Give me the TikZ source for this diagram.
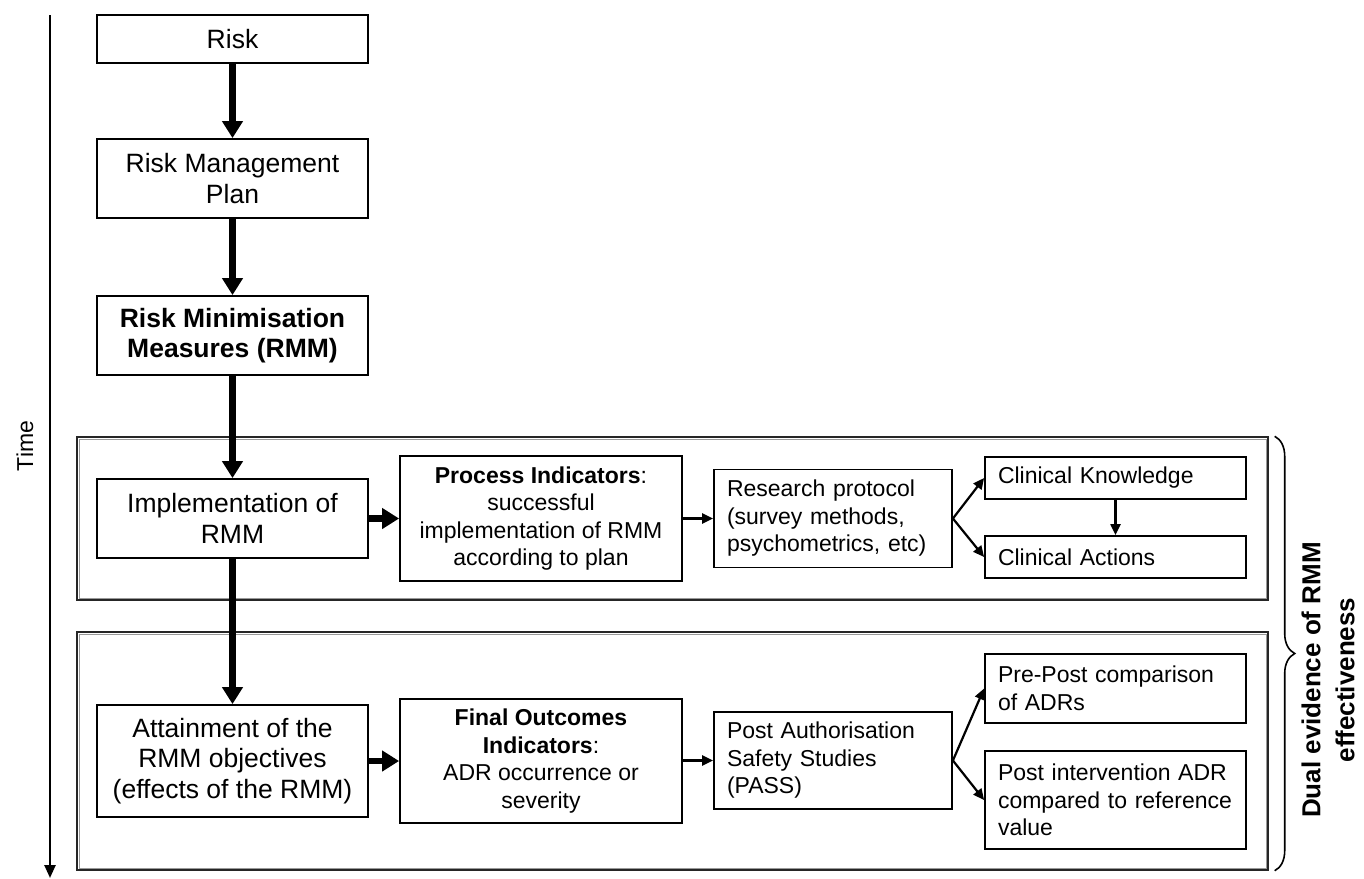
\documentclass[tikz,border=0pt]{standalone}
\usepackage{fontspec}
\setmainfont{Liberation Sans}
\usetikzlibrary{arrows.meta,decorations.pathreplacing,calc}
\newcommand{\lpad}{\leftskip=13pt\relax\hyphenpenalty=10000\relax}
\begin{document}
\begin{tikzpicture}[x=1pt,y=-1pt,
  box/.style={draw, line width=1.8pt, inner sep=0pt, align=center, font=\fontsize{26.5}{30.5}\selectfont},
  midbox/.style={box, font=\fontsize{23}{27.5}\selectfont},
  lbox/.style={draw, line width=1.8pt, inner sep=0pt, align=left, font=\fontsize{23}{27.5}\selectfont},
  frame/.style={draw=black!85, line width=1.4pt, inner sep=0pt},
  frameinner/.style={draw=black!40, line width=0.8pt, inner sep=0pt},
  bigarrow/.style={line width=6.5pt, -{Triangle[length=17pt,width=20pt]}},
  thinarrow/.style={line width=2.2pt, -{Triangle[length=11pt,width=10pt]}},
  timearrow/.style={line width=2.4pt, -{Triangle[length=13pt,width=11pt]}}
]
\useasboundingbox (0,0) rectangle (1364,878);

% group frames
\node[frame, minimum width=1191pt, minimum height=163pt] (g1) at (672.5,518.5) {};
\node[frameinner, minimum width=1187pt, minimum height=159pt] (g1i) at (672.5,518.5) {};
\node[frame, minimum width=1191pt, minimum height=238pt] (g2) at (672.5,751) {};
\node[frameinner, minimum width=1187pt, minimum height=234pt] (g2i) at (672.5,751) {};

% time axis
\coordinate (t0) at (50,15);
\coordinate (t1) at (50,878);
\draw[timearrow] (t0) -- (t1);
\node[rotate=90, font=\fontsize{23}{26}\selectfont] (time) at (25,446) {Time};

% main column
\node[box, minimum width=271pt, minimum height=48pt] (risk) at (232.5,39) {Risk};
\node[box, minimum width=271pt, minimum height=79pt] (rmp) at (232.5,178.5) {Risk Management\\Plan};
\node[box, minimum width=271pt, minimum height=79pt, font=\bfseries\fontsize{26.5}{30.5}\selectfont] (rmm) at (232.5,335.5) {Risk Minimisation\\Measures (RMM)};
\node[box, minimum width=271pt, minimum height=79pt] (impl) at (232.5,518.5) {Implementation of\\RMM};
\node[box, minimum width=271pt, minimum height=112pt] (att) at (232.5,761) {Attainment of the\\RMM objectives\\(effects of the RMM)};

% process row
\node[midbox, minimum width=282pt, minimum height=125pt] (proc) at (541,518.5) {\textbf{Process Indicators}:\\successful\\implementation of RMM\\according to plan};
\node[lbox, text width=238pt, minimum height=98pt] (res) at (833,518.5) {\lpad Research protocol\\(survey methods,\\psychometrics, etc)\par};
\node[lbox, text width=261pt, minimum height=42pt] (ck) at (1115.5,478) {\lpad Clinical Knowledge\par};
\node[lbox, text width=261pt, minimum height=42pt] (ca) at (1115.5,557) {\lpad Clinical Actions\par};

% outcome row
\node[midbox, minimum width=282pt, minimum height=124pt] (fin) at (541,761) {\textbf{Final Outcomes}\\\textbf{Indicators}:\\ADR occurrence or\\severity};
\node[lbox, text width=238pt, minimum height=97pt] (pas) at (833,760.5) {\lpad Post Authorisation\\Safety Studies\\(PASS)\par};
\node[lbox, text width=261pt, minimum height=69pt] (pre) at (1115.5,688.5) {\lpad Pre-Post comparison\\of ADRs\par};
\node[lbox, text width=261pt, minimum height=98pt] (pin) at (1115.5,800) {\lpad Post intervention ADR\\compared to reference\\value\par};

% connectors
\draw[bigarrow] (risk) -- (rmp);
\draw[bigarrow] (rmp) -- (rmm);
\draw[bigarrow] (rmm) -- (impl);
\draw[bigarrow] (impl) -- (att);
\draw[bigarrow] (impl.east) -- (impl.east -| proc.west);
\draw[bigarrow] (att.east) -- (att.east -| fin.west);
\draw[thinarrow] (proc.east) -- (proc.east -| res.west);
\draw[thinarrow] (pas.west -| fin.east) -- (pas.west);
\draw[thinarrow] (res.east) -- (ck.west);
\draw[thinarrow] (res.east) -- (ca.west);
\draw[thinarrow] (pas.east) -- (pre.west);
\draw[thinarrow] (pas.east) -- (pin.west);
\draw[thinarrow] (ck.south) -- (ca.north);

% brace and label
\coordinate (b0) at ($(g1.north east)+(6,0)$);
\coordinate (b1) at ($(g2.south east)+(6,0)$);
\draw[decorate, decoration={brace, amplitude=20pt}, line width=1.6pt] (b0) -- (b1);
\node[rotate=90, align=center, font=\bfseries\fontsize{26}{34}\selectfont] (dual) at (1328,680) {Dual evidence of RMM\\effectiveness};
\end{tikzpicture}
\end{document}
